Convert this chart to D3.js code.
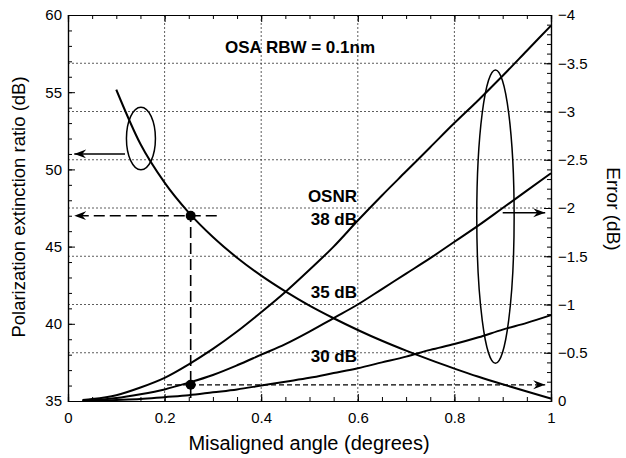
<!DOCTYPE html>
<html>
<head>
<meta charset="utf-8">
<script src="https://cdn.jsdelivr.net/npm/d3@7"></script>
<style>
  body { margin: 0; background: #fff; }
  svg { display: block; font-family: "Liberation Sans", Arial, Helvetica, sans-serif; }
</style>
</head>
<body>
<div id="chart"></div>
<script>
// datos
var angulos = [0.03, 0.05, 0.1, 0.15, 0.2, 0.25, 0.3, 0.35, 0.4, 0.45, 0.5,
               0.55, 0.6, 0.65, 0.7, 0.75, 0.8, 0.85, 0.9, 0.95, 1.0];
// error (dB) para cada OSNR, eje derecho
var error38 = [-0.01, -0.02, -0.06, -0.14, -0.24, -0.38, -0.54, -0.72, -0.92, -1.13, -1.36,
               -1.60, -1.87, -2.13, -2.38, -2.63, -2.88, -3.12, -3.37, -3.63, -3.89];
var error35 = [-0.003, -0.008, -0.03, -0.07, -0.12, -0.19, -0.27, -0.37, -0.48, -0.59, -0.72,
               -0.86, -1.00, -1.16, -1.32, -1.48, -1.65, -1.82, -2.00, -2.18, -2.36];
var error30 = [-0.001, -0.002, -0.01, -0.02, -0.04, -0.06, -0.09, -0.12, -0.16, -0.20, -0.24,
               -0.29, -0.34, -0.40, -0.46, -0.53, -0.59, -0.66, -0.74, -0.81, -0.89];
// razon de extincion (dB), eje izquierdo
var angulosER = [0.1, 0.15, 0.2, 0.25, 0.3, 0.35, 0.4, 0.45, 0.5, 0.55,
                 0.6, 0.65, 0.7, 0.75, 0.8, 0.85, 0.9, 0.95, 1.0];
var extincion = [55.16, 51.64, 49.14, 47.20, 45.62, 44.28, 43.12, 42.10, 41.18, 40.36,
                 39.60, 38.90, 38.26, 37.66, 37.10, 36.57, 36.08, 35.61, 35.16];

var ticksX = [0, 0.2, 0.4, 0.6, 0.8, 1];
var ticksIzq = [35, 40, 45, 50, 55, 60];
var ticksDer = [0, -0.5, -1, -1.5, -2, -2.5, -3, -3.5, -4];
var etiquetasOSNR = ["38 dB", "35 dB", "30 dB"];

var chart_width = 626;
var chart_height = 458;
var margin = { top: 15, botton: 57, left: 68, right: 75 };

var svg = d3.select("#chart")
  .append("svg")
  .attr("width", chart_width)
  .attr("height", chart_height);

var defs = svg.append("defs");
defs.append("marker")
  .attr("id", "flecha")
  .attr("viewBox", "-12 -6 14 12")
  .attr("refX", 0)
  .attr("refY", 0)
  .attr("markerWidth", 14)
  .attr("markerHeight", 12)
  .attr("markerUnits", "userSpaceOnUse")
  .attr("orient", "auto")
  .append("path")
  .attr("d", "M0,0 L-12,-4.5 L-8,0 L-12,4.5 Z")
  .attr("fill", "#000");

// Escalas
var escalaX = d3.scaleLinear()
  .domain([0, 1])
  .range([margin.left, chart_width - margin.right]);
var escalaY = d3.scaleLinear()
  .domain([35, 60])
  .range([chart_height - margin.botton, margin.top]);
var escalaY2 = d3.scaleLinear()
  .domain([0, -4])
  .range([chart_height - margin.botton, margin.top]);

var x0 = escalaX(0), x1 = escalaX(1);
var y0 = escalaY(35), y1 = escalaY(60);

// rejilla punteada
var rejilla = svg.append("g")
  .attr("stroke", "#333")
  .attr("stroke-width", 0.8)
  .attr("stroke-dasharray", "2,2");
rejilla.selectAll("line.v")
  .data(ticksX.slice(1, -1))
  .enter().append("line")
  .attr("x1", d => escalaX(d)).attr("x2", d => escalaX(d))
  .attr("y1", y0).attr("y2", y1);
rejilla.selectAll("line.h")
  .data(ticksDer.slice(1, -1))
  .enter().append("line")
  .attr("y1", d => escalaY2(d)).attr("y2", d => escalaY2(d))
  .attr("x1", x0).attr("x2", x1);

// Ejes
var fmtMenos = function (d) { return d === 0 ? "0" : String(d).replace("-", "\u2212"); };

function estiloEje(g) {
  g.selectAll("path.domain").attr("stroke", "#000").attr("stroke-width", 1.2);
  g.selectAll(".tick line").attr("stroke", "#000").attr("stroke-width", 1);
  g.selectAll(".tick text").attr("fill", "#000").style("font-size", "15px");
}

// menores
svg.append("g")
  .attr("transform", "translate(0," + y0 + ")")
  .call(d3.axisBottom(escalaX).tickValues(d3.range(0, 1.001, 0.05)).tickSize(-4).tickFormat(""))
  .call(estiloEje);
svg.append("g")
  .attr("transform", "translate(0," + y1 + ")")
  .call(d3.axisTop(escalaX).tickValues(d3.range(0, 1.001, 0.05)).tickSize(-4).tickFormat(""))
  .call(estiloEje);
svg.append("g")
  .attr("transform", "translate(" + x0 + ",0)")
  .call(d3.axisLeft(escalaY).tickValues(d3.range(35, 60.1, 1)).tickSize(-4).tickFormat(""))
  .call(estiloEje);
svg.append("g")
  .attr("transform", "translate(" + x1 + ",0)")
  .call(d3.axisRight(escalaY2).tickValues(d3.range(0, -4.01, -0.1)).tickSize(-4).tickFormat(""))
  .call(estiloEje);

// mayores
svg.append("g")
  .attr("transform", "translate(0," + y0 + ")")
  .call(d3.axisBottom(escalaX).tickValues(ticksX).tickSize(-7).tickPadding(11).tickFormat(d => d))
  .call(estiloEje);
svg.append("g")
  .attr("transform", "translate(0," + y1 + ")")
  .call(d3.axisTop(escalaX).tickValues(ticksX).tickSize(-7).tickFormat(""))
  .call(estiloEje);
svg.append("g")
  .attr("transform", "translate(" + x0 + ",0)")
  .call(d3.axisLeft(escalaY).tickValues(ticksIzq).tickSize(-7).tickPadding(6))
  .call(estiloEje);
svg.append("g")
  .attr("transform", "translate(" + x1 + ",0)")
  .call(d3.axisRight(escalaY2).tickValues(ticksDer).tickSize(-7).tickPadding(7).tickFormat(fmtMenos))
  .call(estiloEje);

// Curvas de error
var lineaErr = d3.line()
  .x(function (d, i) { return escalaX(angulos[i]); })
  .y(function (d) { return escalaY2(d); })
  .curve(d3.curveMonotoneX);

[error38, error35, error30].forEach(function (serie) {
  svg.append("path")
    .datum(serie)
    .attr("fill", "none")
    .attr("stroke", "#000")
    .attr("stroke-width", 2)
    .attr("d", lineaErr);
});

// Curva de extincion
var lineaER = d3.line()
  .x(function (d, i) { return escalaX(angulosER[i]); })
  .y(function (d) { return escalaY(d); })
  .curve(d3.curveMonotoneX);

svg.append("path")
  .datum(extincion)
  .attr("fill", "none")
  .attr("stroke", "#000")
  .attr("stroke-width", 2)
  .attr("d", lineaER);

// lineas punteadas de lectura
var angLectura = 0.254;
svg.append("line")
  .attr("x1", escalaX(0.308)).attr("x2", escalaX(0.013))
  .attr("y1", escalaY(47)).attr("y2", escalaY(47))
  .attr("stroke", "#000").attr("stroke-width", 1.6)
  .attr("stroke-dasharray", "11,5")
  .attr("marker-end", "url(#flecha)");
svg.append("line")
  .attr("x1", escalaX(angLectura)).attr("x2", escalaX(angLectura))
  .attr("y1", escalaY(47.3)).attr("y2", y0)
  .attr("stroke", "#000").attr("stroke-width", 1.6)
  .attr("stroke-dasharray", "11,5");
svg.append("line")
  .attr("x1", escalaX(0.205)).attr("x2", escalaX(0.988))
  .attr("y1", escalaY(36.05)).attr("y2", escalaY(36.05))
  .attr("stroke", "#000").attr("stroke-width", 1.3)
  .attr("stroke-dasharray", "5,3")
  .attr("marker-end", "url(#flecha)");

svg.selectAll("circle.punto")
  .data([47, 36.05])
  .enter().append("circle")
  .attr("cx", escalaX(angLectura))
  .attr("cy", d => escalaY(d))
  .attr("r", 5)
  .attr("fill", "#000");

// elipses y flechas
function elipse(cx, cy, rx, ry, escala) {
  svg.append("ellipse")
    .attr("cx", escalaX(cx))
    .attr("cy", escala(cy))
    .attr("rx", escalaX(rx) - escalaX(0))
    .attr("ry", Math.abs(escala(ry) - escala(0)))
    .attr("fill", "none")
    .attr("stroke", "#000")
    .attr("stroke-width", 1.5);
}
elipse(0.151, 52, 0.030, 2.03, escalaY);
elipse(0.885, -1.91, 0.0387, 1.52, escalaY2);

svg.append("line")
  .attr("x1", escalaX(0.118)).attr("x2", escalaX(0.013))
  .attr("y1", escalaY(51)).attr("y2", escalaY(51))
  .attr("stroke", "#000").attr("stroke-width", 1.5)
  .attr("marker-end", "url(#flecha)");
svg.append("line")
  .attr("x1", escalaX(0.9)).attr("x2", escalaX(0.988))
  .attr("y1", escalaY2(-1.95)).attr("y2", escalaY2(-1.95))
  .attr("stroke", "#000").attr("stroke-width", 1.5)
  .attr("marker-end", "url(#flecha)");

// textos
svg.append("text")
  .attr("x", 300).attr("y", 53)
  .attr("text-anchor", "middle")
  .style("font-size", "17px").style("font-weight", "bold")
  .text("OSA RBW = 0.1nm");

svg.append("text")
  .attr("x", 357).attr("y", 202)
  .attr("text-anchor", "end")
  .style("font-size", "17px").style("font-weight", "bold")
  .text("OSNR");

svg.selectAll("text.osnr")
  .data(etiquetasOSNR)
  .enter().append("text")
  .attr("x", 357)
  .attr("y", function (d, i) { return [225, 298, 362][i]; })
  .attr("text-anchor", "end")
  .style("font-size", "17px").style("font-weight", "bold")
  .text(d => d);

svg.append("text")
  .attr("x", 309).attr("y", 450)
  .attr("text-anchor", "middle")
  .style("font-size", "20px")
  .text("Misaligned angle (degrees)");

svg.append("text")
  .attr("transform", "translate(25,207) rotate(-90)")
  .attr("text-anchor", "middle")
  .style("font-size", "18.5px")
  .text("Polarization extinction ratio (dB)");

svg.append("text")
  .attr("transform", "translate(607,209) rotate(90)")
  .attr("text-anchor", "middle")
  .style("font-size", "19px")
  .text("Error (dB)");
</script>
</body>
</html>
